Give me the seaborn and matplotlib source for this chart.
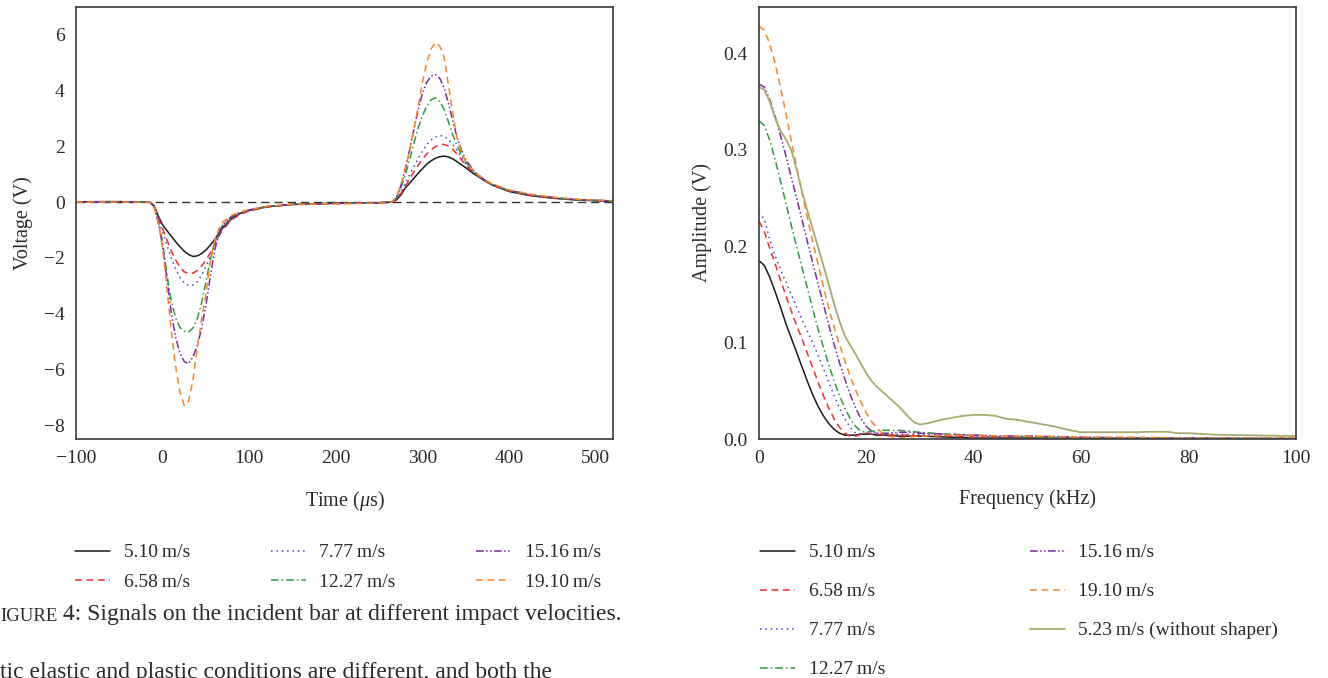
#!/usr/bin/env python3
"""Incident-bar signals (time domain) and their amplitude spectra.

Two panels side by side: voltage vs. time for six impact velocities and the
matching FFT amplitude vs. frequency (plus the no-shaper reference shot).
Writes out.png.
"""

import matplotlib

matplotlib.use("Agg")

import matplotlib.pyplot as plt
import pandas as pd
import seaborn as sns
from matplotlib.ticker import MultipleLocator

# ---------------------------------------------------------------- time domain
TIME_US = [-100, -60, -30, -15, -10, -5, 0, 5, 10, 15, 20, 25, 30, 35, 40, 45,
           50, 55, 60, 65, 70, 80, 90, 100, 120, 150, 200, 250, 265, 270, 275,
           280, 285, 290, 295, 300, 305, 310, 315, 320, 325, 330, 335, 340,
           345, 350, 360, 370, 380, 400, 425, 450, 480, 520]

V_510 = [0.01, 0.02, 0.01, 0.0, -0.12, -0.5, -0.82, -1.02, -1.22, -1.42, -1.6,
         -1.76, -1.88, -1.95, -1.93, -1.85, -1.72, -1.55, -1.35, -1.12, -0.9,
         -0.58, -0.4, -0.3, -0.17, -0.08, -0.04, -0.02, 0.0, 0.08, 0.25, 0.5,
         0.67, 0.85, 1.03, 1.2, 1.36, 1.48, 1.57, 1.63, 1.65, 1.62, 1.55, 1.45,
         1.34, 1.23, 1.0, 0.8, 0.62, 0.38, 0.23, 0.14, 0.07, 0.03]
V_658 = [0.0, 0.01, 0.0, 0.0, -0.12, -0.55, -0.95, -1.35, -1.75, -2.08, -2.33,
         -2.5, -2.57, -2.55, -2.46, -2.3, -2.08, -1.82, -1.52, -1.22, -0.97,
         -0.63, -0.43, -0.32, -0.18, -0.09, -0.05, -0.03, 0.0, 0.1, 0.3, 0.56,
         0.82, 1.08, 1.32, 1.54, 1.73, 1.88, 1.99, 2.06, 2.07, 2.01, 1.89, 1.72,
         1.52, 1.32, 1.03, 0.8, 0.62, 0.39, 0.24, 0.15, 0.08, 0.04]
V_777 = [0.0, 0.0, 0.01, 0.0, -0.13, -0.6, -1.05, -1.55, -2.0, -2.4, -2.7,
         -2.9, -2.99, -2.97, -2.86, -2.63, -2.32, -1.94, -1.56, -1.2, -0.92,
         -0.6, -0.41, -0.31, -0.17, -0.09, -0.05, -0.03, 0.0, 0.12, 0.36, 0.66,
         0.96, 1.26, 1.56, 1.83, 2.06, 2.23, 2.34, 2.39, 2.36, 2.25, 2.07, 1.85,
         1.6, 1.38, 1.05, 0.81, 0.63, 0.4, 0.25, 0.15, 0.08, 0.04]
V_1227 = [0.0, 0.01, 0.0, 0.0, -0.15, -0.7, -1.45, -2.6, -3.55, -4.15, -4.5,
          -4.63, -4.66, -4.52, -4.2, -3.62, -2.88, -2.08, -1.45, -1.05, -0.8,
          -0.52, -0.37, -0.28, -0.16, -0.08, -0.05, -0.03, 0.0, 0.15, 0.5, 0.95,
          1.5, 2.1, 2.65, 3.1, 3.45, 3.67, 3.74, 3.62, 3.32, 2.88, 2.42, 2.02,
          1.7, 1.44, 1.07, 0.82, 0.64, 0.41, 0.26, 0.16, 0.08, 0.04]
V_1516 = [0.01, 0.0, 0.01, 0.0, -0.15, -0.72, -1.55, -2.75, -3.95, -4.85, -5.42,
          -5.72, -5.8, -5.56, -5.15, -4.55, -3.7, -2.7, -1.75, -1.15, -0.8,
          -0.5, -0.36, -0.28, -0.16, -0.08, -0.05, -0.03, 0.0, 0.17, 0.58, 1.15,
          1.85, 2.6, 3.3, 3.9, 4.3, 4.52, 4.57, 4.44, 4.1, 3.55, 2.92, 2.32,
          1.86, 1.52, 1.1, 0.84, 0.65, 0.42, 0.27, 0.17, 0.09, 0.04]
V_1910 = [0.0, 0.01, 0.0, 0.0, -0.15, -0.75, -1.65, -3.1, -4.6, -5.9, -6.8,
          -7.3, -7.15, -6.4, -5.25, -4.2, -3.3, -2.15, -1.4, -0.95, -0.7,
          -0.47, -0.35, -0.27, -0.15, -0.08, -0.06, -0.04, 0.0, 0.2, 0.6, 1.2,
          1.8, 2.6, 3.4, 4.3, 5.0, 5.5, 5.72, 5.6, 5.2, 4.2, 3.2, 2.3,
          1.78, 1.45, 1.08, 0.84, 0.66, 0.44, 0.28, 0.18, 0.1, 0.05]

# ----------------------------------------------------------- frequency domain
FREQ_KHZ = [0, 1, 2, 3, 4, 5, 6, 7, 8, 9, 10, 11, 12, 13, 14, 15, 16, 17, 18,
            19, 20, 21, 22, 23, 24, 26, 28, 30, 35, 40, 45, 50, 60, 70, 80, 90,
            100]

A_510 = [0.185, 0.18, 0.168, 0.153, 0.137, 0.12, 0.105, 0.09, 0.075, 0.06,
         0.046, 0.034, 0.024, 0.016, 0.01, 0.006, 0.004, 0.004, 0.004, 0.005,
         0.005, 0.005, 0.004, 0.004, 0.004, 0.003, 0.003, 0.003, 0.002, 0.001,
         0.001, 0.001, 0.0005, 0.0004, 0.0003, 0.0003, 0.0002]
A_658 = [0.226, 0.215, 0.198, 0.182, 0.165, 0.149, 0.133, 0.118, 0.104, 0.089,
         0.074, 0.059, 0.045, 0.032, 0.021, 0.012, 0.006, 0.003, 0.003, 0.005,
         0.006, 0.005, 0.005, 0.004, 0.004, 0.004, 0.004, 0.003, 0.003, 0.002,
         0.002, 0.001, 0.001, 0.0008, 0.0006, 0.0005, 0.0004]
A_777 = [0.235, 0.228, 0.207, 0.19, 0.176, 0.163, 0.15, 0.137, 0.124, 0.112,
         0.1, 0.087, 0.073, 0.059, 0.045, 0.032, 0.021, 0.012, 0.006, 0.005,
         0.006, 0.006, 0.006, 0.005, 0.005, 0.005, 0.005, 0.005, 0.004, 0.003,
         0.002, 0.002, 0.001, 0.001, 0.0008, 0.0006, 0.0005]
A_1227 = [0.33, 0.325, 0.31, 0.29, 0.268, 0.245, 0.222, 0.2, 0.178, 0.157,
          0.135, 0.114, 0.095, 0.077, 0.06, 0.045, 0.032, 0.021, 0.013, 0.008,
          0.007, 0.008, 0.009, 0.009, 0.009, 0.009, 0.008, 0.007, 0.005, 0.004,
          0.003, 0.002, 0.001, 0.001, 0.0008, 0.0006, 0.0005]
A_1516 = [0.368, 0.365, 0.352, 0.335, 0.315, 0.294, 0.272, 0.25, 0.228, 0.205,
          0.183, 0.161, 0.14, 0.118, 0.098, 0.079, 0.062, 0.046, 0.032, 0.021,
          0.013, 0.008, 0.006, 0.006, 0.006, 0.007, 0.007, 0.006, 0.005, 0.004,
          0.003, 0.003, 0.002, 0.001, 0.001, 0.0008, 0.0006]
A_1910 = [0.428, 0.424, 0.41, 0.39, 0.365, 0.338, 0.31, 0.283, 0.256, 0.23,
          0.205, 0.181, 0.158, 0.136, 0.116, 0.098, 0.081, 0.065, 0.051, 0.038,
          0.027, 0.018, 0.011, 0.006, 0.003, 0.001, 0.002, 0.003, 0.004, 0.004,
          0.003, 0.003, 0.002, 0.002, 0.001, 0.001, 0.001]

FREQ_NO_SHAPER = [0, 1, 2, 3, 4, 5, 6, 7, 8, 9, 10, 11, 12, 13, 14, 15, 16, 17,
                  18, 19, 20, 21, 22, 23, 24, 25, 26, 27, 28, 29, 30, 32, 34,
                  36, 38, 40, 42, 44, 46, 48, 50, 52, 55, 58, 60, 65, 70, 73,
                  76, 78, 80, 85, 90, 95, 100]
A_523 = [0.365, 0.362, 0.35, 0.333, 0.32, 0.311, 0.3, 0.28, 0.257, 0.237,
         0.218, 0.199, 0.18, 0.16, 0.14, 0.122, 0.107, 0.097, 0.088, 0.078,
         0.068, 0.06, 0.054, 0.049, 0.044, 0.039, 0.034, 0.028, 0.022, 0.017,
         0.015, 0.017, 0.02, 0.022, 0.024, 0.025, 0.025, 0.024, 0.021, 0.02,
         0.018, 0.016, 0.013, 0.009, 0.007, 0.007, 0.007, 0.0075, 0.0075,
         0.006, 0.006, 0.0045, 0.004, 0.0035, 0.003]

SP = "\u2009"
LABELS = [f"5.10{SP}m/s", f"6.58{SP}m/s", f"7.77{SP}m/s", f"12.27{SP}m/s",
          f"15.16{SP}m/s", f"19.10{SP}m/s"]
LABEL_NO_SHAPER = f"5.23{SP}m/s (without shaper)"

COLORS = ["#1a1a1a", "#e8302e", "#4a44c4", "#2f9a45", "#7d2b99", "#f5862a"]
COLOR_NO_SHAPER = "#a9ab6c"
STYLES = ["-", (0, (4.5, 3)), (0, (1, 2.5)), (0, (5, 2, 1, 2)),
          (0, (5, 1.6, 1, 1.6, 1, 1.6)), (0, (4.5, 3))]

# small-caps "IGURE" (the "F" falls off the page edge)
CAPTION_SC = "IGURE"
CAPTION = " 4: Signals on the incident bar at different impact velocities."
BODY_LINE = "tic elastic and plastic conditions are different, and both the"

FONT = ["Liberation Serif", "DejaVu Serif"]
INK = "#2b2b2b"


def style_axes(ax, xmaj, xmin, ymaj, ymin):
    ax.xaxis.set_major_locator(MultipleLocator(xmaj))
    ax.xaxis.set_minor_locator(MultipleLocator(xmin))
    ax.yaxis.set_major_locator(MultipleLocator(ymaj))
    ax.yaxis.set_minor_locator(MultipleLocator(ymin))
    ax.tick_params(which="both", direction="in", top=False, right=False,
                   colors=INK, labelsize=14, labelcolor=INK)
    ax.tick_params(which="major", length=5, width=1.0, pad=8)
    ax.tick_params(which="minor", length=3, width=1.0)
    for sp in ax.spines.values():
        sp.set_visible(True)
        sp.set_color("#3a3a3a")
        sp.set_linewidth(1.2)


def main() -> None:
    sns.set_theme(style="white")
    plt.rcParams["font.family"] = FONT
    plt.rcParams["mathtext.fontset"] = "custom"
    plt.rcParams["mathtext.rm"] = "Liberation Serif"
    plt.rcParams["mathtext.it"] = "Liberation Serif:italic"
    plt.rcParams["text.color"] = INK
    plt.rcParams["axes.labelcolor"] = INK

    fig = plt.figure(figsize=(13.28, 6.78), dpi=100)
    ax1 = fig.add_axes([0.0572, 0.3525, 0.4044, 0.6372])
    ax2 = fig.add_axes([0.5715, 0.3525, 0.4044, 0.6372])

    # time-domain panel
    volts = [V_510, V_658, V_777, V_1227, V_1516, V_1910]
    ax1.axhline(0, color="#333333", lw=1.0, ls=(0, (6, 3.5)), zorder=1)
    for v, lab, col, ls in zip(volts, LABELS, COLORS, STYLES):
        df = pd.DataFrame({"t": TIME_US, "v": v})
        sns.lineplot(data=df, x="t", y="v", color=col, linestyle=ls,
                     linewidth=1.1, label=lab, legend=False, ax=ax1)
    ax1.set_xlim(-100, 520)
    ax1.set_ylim(-8.5, 7.0)
    ax1.set_xlabel("Time ($\\mu$s)", fontsize=14.5, labelpad=16)
    ax1.set_ylabel("Voltage (V)", fontsize=14.5, labelpad=8)
    style_axes(ax1, 100, 50, 2, 1)

    # frequency-domain panel
    amps = [A_510, A_658, A_777, A_1227, A_1516, A_1910]
    for a, lab, col, ls in zip(amps, LABELS, COLORS, STYLES):
        df = pd.DataFrame({"f": FREQ_KHZ, "a": a})
        sns.lineplot(data=df, x="f", y="a", color=col, linestyle=ls,
                     linewidth=1.1, label=lab, legend=False, ax=ax2)
    df = pd.DataFrame({"f": FREQ_NO_SHAPER, "a": A_523})
    sns.lineplot(data=df, x="f", y="a", color=COLOR_NO_SHAPER, linestyle="-",
                 linewidth=1.3, label=LABEL_NO_SHAPER, legend=False, ax=ax2)
    ax2.set_xlim(0, 100)
    ax2.set_ylim(0, 0.448)
    ax2.set_xlabel("Frequency (kHz)", fontsize=14.5, labelpad=16)
    ax2.set_ylabel("Amplitude (V)", fontsize=14.5, labelpad=8)
    style_axes(ax2, 20, 10, 0.1, 0.05)

    # legends under each panel
    h1, l1 = ax1.get_legend_handles_labels()
    fig.legend(h1, l1, loc="upper left", bbox_to_anchor=(0.0565, 0.198),
               ncol=3, frameon=False, fontsize=14, borderpad=0,
               borderaxespad=0, handlelength=1.8, handletextpad=0.7,
               columnspacing=4.15, labelspacing=0.6)
    h2, l2 = ax2.get_legend_handles_labels()
    fig.legend(h2, l2, loc="upper left", bbox_to_anchor=(0.5723, 0.198),
               ncol=2, frameon=False, fontsize=14, borderpad=0,
               borderaxespad=0, handlelength=1.8, handletextpad=0.7,
               columnspacing=7.45, labelspacing=1.1)

    # caption fragment and the clipped body line from the page
    t1 = fig.text(0.0, 1 - 621 / 678, CAPTION_SC, fontsize=13.5,
                  ha="left", va="baseline")
    ax1.annotate(CAPTION, xy=(1, 0), xycoords=t1, fontsize=17,
                 ha="left", va="bottom", annotation_clip=False)
    fig.text(0.0, 1 - 678 / 678, BODY_LINE, fontsize=17, ha="left",
             va="baseline")

    fig.savefig("out.png", dpi=100)
    plt.close(fig)


if __name__ == "__main__":
    main()
